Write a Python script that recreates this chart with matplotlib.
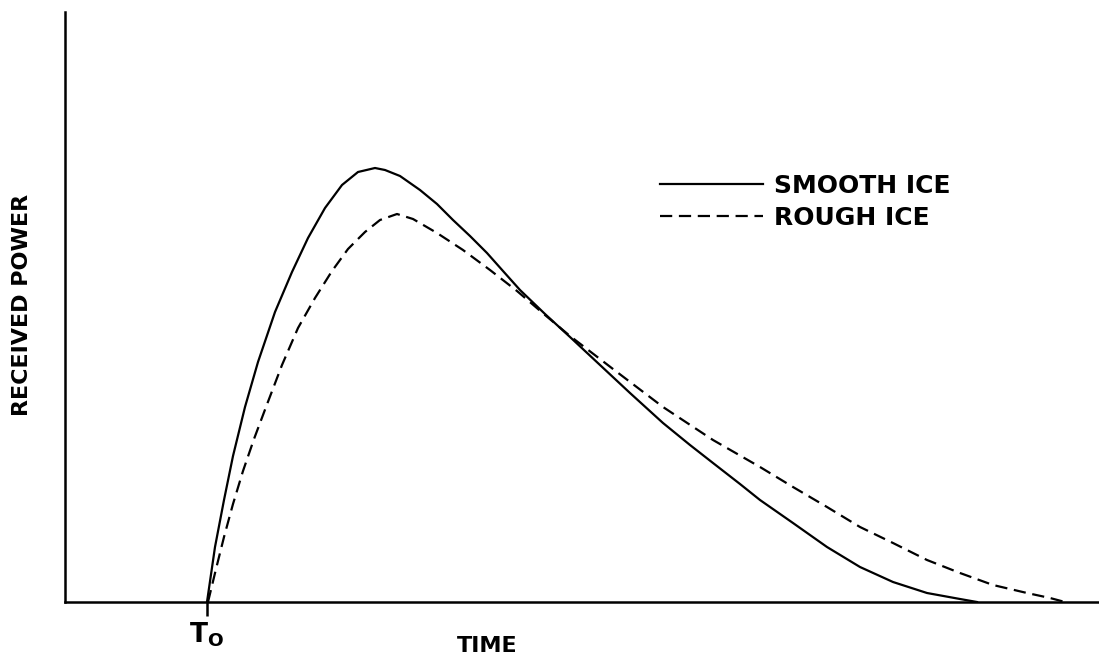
import matplotlib
matplotlib.use("Agg")
import matplotlib.pyplot as plt

# ========== Data (arbitrary units) ==========
# time measured from the left axis, power measured up from the time axis
smooth_t = [142, 150, 159, 168, 180, 193, 210, 227, 243, 260, 277, 293, 310, 320,
            335, 355, 372, 388, 405, 422, 438, 455, 480, 505, 535, 565, 598, 625,
            648, 675, 695, 728, 762, 795, 828, 862, 895, 912]
smooth_p = [0, 55, 102, 146, 195, 240, 290, 330, 364, 394, 417, 430, 434, 432,
            426, 412, 398, 382, 366, 349, 331, 312, 288, 265, 237, 209, 179, 157,
            139, 118, 102, 79, 55, 35, 20, 9, 3, 0]

rough_t = [143, 151, 159, 168, 178, 189, 201, 217, 233, 250, 267, 283, 300, 315,
           332, 348, 372, 398, 425, 452, 480, 505, 548, 598, 648, 695, 728, 762,
           795, 828, 862, 895, 928, 962, 985, 1000]
rough_p = [0, 33, 65, 98, 131, 163, 195, 237, 274, 304, 331, 353, 370, 382,
           388, 383, 369, 352, 332, 311, 287, 266, 233, 195, 162, 135, 115, 95,
           75, 59, 42, 29, 17, 9, 4, 0]

series_labels = ["SMOOTH ICE", "ROUGH ICE"]
t0 = 142

# ========== Figure ==========
fig = plt.figure(figsize=(10.99, 6.64), dpi=100)
ax = fig.add_axes([65 / 1099, 62 / 664, 1 - 65 / 1099, 590 / 664])

ax.plot(smooth_t, smooth_p, color="black", lw=1.6, label=series_labels[0])
ax.plot(rough_t, rough_p, color="black", lw=1.6, ls=(0, (5.5, 3)),
        label=series_labels[1])

ax.set_xlim(0, 1034)
ax.set_ylim(0, 590)
ax.spines["top"].set_visible(False)
ax.spines["right"].set_visible(False)
ax.spines["left"].set_linewidth(1.8)
ax.spines["bottom"].set_linewidth(1.8)

# only the T0 mark on the time axis
ax.set_xticks([t0])
ax.set_xticklabels([r"$\mathbf{T_O}$"])
ax.set_yticks([])
ax.tick_params(axis="x", direction="out", length=10, width=1.8, pad=3,
               labelsize=19)

# axis titles placed in figure pixels
fig.text(487 / 1099, 1 - 646 / 664, "TIME", fontsize=16, fontweight="bold",
         ha="center", va="center")
fig.text(22 / 1099, 1 - 305 / 664, "RECEIVED POWER", fontsize=16,
         fontweight="bold", rotation=90, ha="center", va="center")

leg = ax.legend(loc="upper left", bbox_to_anchor=(660 / 1099, 1 - 174 / 664),
                bbox_transform=fig.transFigure, frameon=False, fontsize=18,
                handlelength=4.1, handletextpad=0.45, labelspacing=0.33,
                borderpad=0, borderaxespad=0)
for txt in leg.get_texts():
    txt.set_fontweight("bold")

fig.savefig("out.png", dpi=100)
